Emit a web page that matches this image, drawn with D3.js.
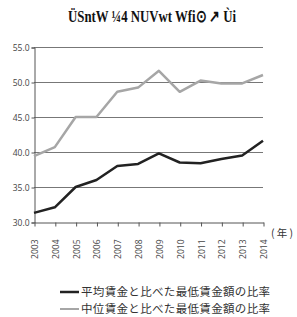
<!DOCTYPE html>
<html><head><meta charset="utf-8">
<script src="https://cdn.jsdelivr.net/npm/d3@7"></script>
<style>body{margin:0;background:#fff;}svg{display:block;}</style>
</head><body>
<script>
const years = ["2003","2004","2005","2006","2007","2008","2009","2010","2011","2012","2013","2014"];
const meanRatio = [31.3,32.1,35.0,36.0,38.0,38.3,39.8,38.5,38.4,39.0,39.5,41.6];
const medianRatio = [39.4,40.7,45.0,45.0,48.6,49.2,51.6,48.6,50.2,49.8,49.8,51.0];
const yTicks = [30,35,40,45,50,55];
const seriesNames = ["平均賃金と比べた最低賃金額の比率","中位賃金と比べた最低賃金額の比率"];
const titleText = "ÜSntW ¼4 NUVwt Wfi⊙ ↗ Ùi";
const unitLabel = "(年)";

const W=297,H=317;
const svg=d3.select("body").append("svg").attr("width",W).attr("height",H);
const x=d3.scalePoint().domain(years).range([34,263]);
const y=d3.scaleLinear().domain([30,55]).range([222,47]);

svg.append("text").attr("x",152).attr("y",22).attr("text-anchor","middle")
  .attr("font-family","Liberation Serif").attr("font-size",17).attr("font-weight","bold")
  .attr("fill","#111").attr("textLength",168).attr("lengthAdjust","spacingAndGlyphs").text(titleText);

// gridlines
svg.append("g").selectAll("line").data(yTicks.filter(d=>d>30)).join("line")
  .attr("x1",34).attr("x2",263).attr("y1",d=>y(d)+0.5).attr("y2",d=>y(d)+0.5)
  .attr("stroke","#777").attr("stroke-width",1);

const ya=svg.append("g").attr("transform","translate(34.5,0.5)")
  .call(d3.axisLeft(y).tickValues(yTicks).tickFormat(d3.format(".1f")).tickSize(3));
ya.select(".domain").attr("stroke","#555");
ya.selectAll(".tick line").attr("stroke","#555");
ya.selectAll("text").attr("font-family","Open Sans").attr("font-size",8.5).attr("fill","#444").attr("x",-5).attr("dy","0.35em");

const xa=svg.append("g").attr("transform","translate(0.5,222.5)")
  .call(d3.axisBottom(x).tickSize(4).tickSizeOuter(0));
xa.select(".domain").attr("stroke","#555");
xa.selectAll(".tick line").attr("stroke","#555");
xa.selectAll("text").attr("font-family","Open Sans").attr("font-size",8.5).attr("fill","#444")
  .attr("transform","rotate(-90)").attr("text-anchor","end").attr("x",-17).attr("y",0).attr("dy","0.35em");

svg.append("text").attr("x",271).attr("y",233).attr("dy","0.36em").attr("font-family","Noto Sans CJK JP")
  .attr("font-size",10.5).attr("fill","#333").attr("textLength",22).attr("lengthAdjust","spacing").text(unitLabel);

const line=d3.line().x((d,i)=>x(years[i])).y(d=>y(d));
const colors=["#222","#a6a6a6"];
[meanRatio,medianRatio].forEach((s,k)=>{
  svg.append("path").datum(s).attr("d",line).attr("fill","none")
    .attr("stroke",colors[k]).attr("stroke-width",2.5).attr("stroke-linejoin","round");
});

const lg=svg.append("g");
seriesNames.forEach((n,k)=>{
  const yy=292+k*17;
  lg.append("line").attr("x1",60).attr("x2",79).attr("y1",yy).attr("y2",yy)
    .attr("stroke",colors[k]).attr("stroke-width",k===0?2.5:2);
  lg.append("text").attr("x",81).attr("y",yy).attr("dy","0.36em")
    .attr("font-family","Noto Sans CJK JP").attr("font-size",11.5).attr("fill","#333")
    .attr("textLength",189).attr("lengthAdjust","spacing").text(n);
});
</script>
</body></html>
